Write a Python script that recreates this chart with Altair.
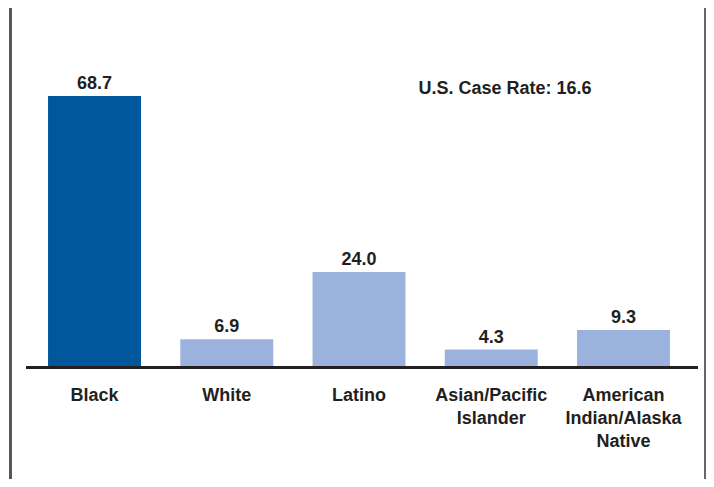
import altair as alt
import pandas as pd

categories = ["Black", "White", "Latino", "Asian/Pacific Islander", "American Indian/Alaska Native"]
rates = [68.7, 6.9, 24.0, 4.3, 9.3]
labels = ["Black", "White", "Latino", "Asian/Pacific\nIslander", "American\nIndian/Alaska\nNative"]
highlight = [True, False, False, False, False]
us_rate = 16.6

df = pd.DataFrame({
    "category": categories,
    "rate": rates,
    "label": labels,
    "hl": highlight,
})
df["rate_txt"] = df["rate"].map(lambda v: f"{v:.1f}")

FONT = "Liberation Sans"
TXT = "#231f20"

x = alt.X("category:N", sort=categories, axis=None,
          scale=alt.Scale(range=[20.4, 681.6], paddingInner=0.297, paddingOuter=0.1485))
y = alt.Y("rate:Q", axis=None, scale=alt.Scale(domain=[0, 91.06], range=[358.5, 0]))

base = alt.Chart(df)

bars = base.mark_bar().encode(
    x=x, y=y,
    color=alt.Color("hl:N", scale=alt.Scale(domain=[True, False], range=["#01579b", "#9bb3dc"]), legend=None),
)

values = base.mark_text(font=FONT, fontSize=18, fontWeight="bold", color=TXT,
                        baseline="alphabetic", dy=-7).encode(
    x=x, y=y, text="rate_txt:N"
)

cat_labels = base.mark_text(font=FONT, fontSize=18, fontWeight="bold", color=TXT,
                            baseline="alphabetic", lineBreak="\n", lineHeight=23).encode(
    x=x, y=alt.value(392.5), text="label:N"
)

axis_line = base.mark_rule(color=TXT, strokeWidth=3).encode(
    x=alt.value(18), x2=alt.value(690), y=alt.value(359.5)
)

note_df = pd.DataFrame({"txt": [f"U.S. Case Rate: {us_rate}"]})
note = alt.Chart(note_df).mark_text(font=FONT, fontSize=18, fontWeight="bold", color=TXT,
                                    baseline="alphabetic", align="center").encode(
    x=alt.value(497), y=alt.value(86), text="txt:N"
)

left_border = base.mark_rule(color="#555555", strokeWidth=2).encode(
    x=alt.value(2.5), y=alt.value(0), y2=alt.value(471)
)
right_border = base.mark_rule(color="#666666", strokeWidth=2).encode(
    x=alt.value(697), y=alt.value(0), y2=alt.value(471)
)

chart = alt.layer(bars, values, cat_labels, axis_line, note, left_border, right_border).properties(
    width=698, height=471,
    autosize=alt.AutoSizeParams(type="none"),
    padding=0,
).configure_view(stroke=None)

chart.save("out.html", embed_options={"renderer": "svg", "actions": False})
